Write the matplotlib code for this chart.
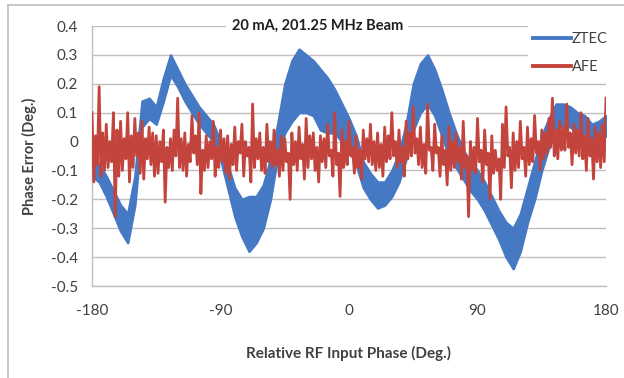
import matplotlib
matplotlib.use("Agg")
import matplotlib.pyplot as plt
from matplotlib.lines import Line2D

# ---- data ----
ztec_x = [-180, -175, -170, -165, -160, -155, -150, -145, -140, -135, -130, -125,
          -120, -115, -110, -105, -100, -95, -90, -85, -80, -75, -70, -65, -60,
          -55, -50, -45, -40, -35, -30, -25, -20, -15, -10, -5, 0, 5, 10, 15, 20,
          25, 30, 35, 40, 45, 50, 55, 60, 65, 70, 75, 80, 85, 90, 95, 100, 105,
          110, 115, 120, 125, 130, 135, 140, 145, 150, 155, 160, 165, 170, 175, 180]
ztec_upper = [-0.05, -0.08, -0.12, -0.17, -0.22, -0.25, -0.12, 0.14, 0.15, 0.12, 0.22, 0.30,
              0.25, 0.20, 0.16, 0.12, 0.09, 0.06, 0.00, -0.08, -0.16, -0.20, -0.19, -0.19, -0.15,
              -0.06, 0.06, 0.20, 0.28, 0.32, 0.30, 0.28, 0.25, 0.22, 0.18, 0.13, 0.08, 0.02, -0.07, -0.11, -0.14,
              -0.14, -0.10, -0.04, 0.06, 0.20, 0.27, 0.30, 0.25, 0.18, 0.10, 0.03, -0.03, -0.07, -0.10, -0.14, -0.19, -0.24,
              -0.28, -0.30, -0.25, -0.16, -0.07, 0.02, 0.08, 0.13, 0.13, 0.12, 0.10, 0.09, 0.06, 0.07, 0.09]
ztec_lower = [-0.12, -0.14, -0.19, -0.25, -0.31, -0.35, -0.22, 0.05, 0.08, 0.06, 0.14, 0.23,
              0.19, 0.14, 0.10, 0.06, 0.03, 0.00, -0.06, -0.16, -0.26, -0.33, -0.38, -0.35, -0.30,
              -0.20, -0.05, 0.03, 0.07, 0.10, 0.10, 0.09, 0.04, 0.03, 0.03, 0.00, -0.03, -0.08, -0.16, -0.20, -0.23,
              -0.22, -0.19, -0.14, -0.06, 0.04, 0.10, 0.13, 0.09, 0.02, -0.05, -0.09, -0.13, -0.17, -0.20, -0.24, -0.29, -0.34,
              -0.40, -0.44, -0.38, -0.28, -0.20, -0.10, -0.02, 0.04, 0.06, 0.05, 0.03, 0.02, 0.00, 0.00, 0.02]

# AFE samples every 1.25 deg from -180 to 180
afe_x = [-180 + 1.25 * i for i in range(289)]
afe_y = [
    0.10, -0.14, 0.02, -0.08, 0.19, -0.12, 0.03, -0.10, 0.06, -0.09, 0.00, -0.07, 0.10, -0.26, 0.04, -0.12,
    0.07, -0.10, 0.01, -0.06, 0.10, -0.14, 0.02, -0.09, 0.08, -0.05, 0.03, -0.11, 0.07, -0.13, 0.01, -0.06,
    0.05, -0.08, 0.03, -0.12, 0.02, -0.11, 0.00, -0.07, 0.04, -0.21, -0.02, -0.09, 0.01, -0.10, 0.04, -0.05,
    0.15, -0.09, 0.01, -0.10, 0.03, -0.12, -0.01, -0.07, 0.09, -0.04, 0.02, -0.08, 0.10, -0.18, -0.03, -0.10,
    0.02, -0.09, 0.00, -0.06, 0.07, -0.12, -0.02, -0.09, 0.04, -0.07, 0.01, -0.11, 0.02, -0.13, -0.01, -0.08,
    0.05, -0.10, 0.00, -0.04, 0.06, -0.12, 0.00, -0.05, -0.02, -0.14, 0.13, -0.09, 0.01, -0.06, 0.03, -0.10,
    -0.02, -0.11, 0.06, -0.07, 0.00, -0.09, 0.04, -0.08, -0.03, -0.12, 0.02, -0.10, 0.01, -0.07, -0.04, -0.20,
    0.03, -0.08, 0.00, -0.10, 0.05, -0.06, -0.01, -0.13, 0.08, -0.09, 0.02, -0.06, 0.03, -0.10, -0.02, -0.14,
    0.02, -0.07, 0.01, -0.09, 0.06, -0.05, -0.03, -0.12, 0.10, -0.08, -0.04, -0.19, 0.04, -0.09, 0.00, -0.08,
    0.07, -0.05, -0.02, -0.11, 0.02, -0.09, -0.03, -0.13, 0.04, -0.06, 0.01, -0.07, 0.06, -0.08, 0.00, -0.10,
    0.03, -0.09, -0.01, -0.12, 0.05, -0.07, 0.02, -0.06, 0.10, -0.05, 0.00, -0.09, 0.04, -0.07, -0.02, -0.12,
    0.07, -0.06, 0.03, -0.05, 0.12, -0.04, 0.01, -0.08, 0.05, -0.09, -0.01, -0.11, 0.13, -0.03, -0.02, -0.10,
    0.06, -0.04, -0.02, -0.12, 0.02, -0.08, -0.03, -0.15, 0.05, -0.10, 0.00, -0.09, 0.03, -0.07, -0.02, -0.13,
    0.07, -0.09, -0.05, -0.26, 0.00, -0.10, -0.02, -0.11, 0.08, -0.07, -0.03, -0.14, 0.04, -0.08, -0.04, -0.20,
    0.02, -0.11, -0.03, -0.10, -0.06, -0.20, 0.06, -0.09, 0.12, -0.05, -0.02, -0.16, 0.03, -0.10, 0.00, -0.09,
    0.07, -0.06, -0.02, -0.12, 0.05, -0.08, 0.01, -0.07, 0.09, -0.04, 0.00, -0.10, 0.04, -0.06, 0.03, -0.04,
    0.08, -0.02, 0.15, -0.05, 0.04, -0.06, 0.07, -0.03, 0.05, -0.03, 0.13, -0.02, 0.03, -0.08, 0.06, -0.04,
    0.04, -0.05, 0.10, -0.06, 0.02, -0.10, 0.08, -0.05, 0.01, -0.13, 0.05, -0.07, 0.03, -0.09, 0.06, -0.07,
    0.15]

x_ticks = [-180, -90, 0, 90, 180]
y_ticks = [-0.5, -0.4, -0.3, -0.2, -0.1, 0, 0.1, 0.2, 0.3, 0.4]
y_tick_labels = ["-0.5", "-0.4", "-0.3", "-0.2", "-0.1", "0", "0.1", "0.2", "0.3", "0.4"]
series_names = ["ZTEC", "AFE"]
title_text = "20 mA, 201.25 MHz Beam"
x_label = "Relative RF Input Phase (Deg.)"
y_label = "Phase Error (Deg.)"

# ---- styling ----
plt.rcParams['font.family'] = ['Lato', 'DejaVu Sans']
BLUE = "#4579C4"
RED = "#C3443D"
GRID = "#C4BDBD"
TEXT = "#404040"

fig = plt.figure(figsize=(6.24, 3.78), dpi=100)
ax = fig.add_axes([92 / 624, 1 - 286 / 378, (606 - 92) / 624, (286 - 26) / 378])

ax.fill_between(ztec_x, ztec_lower, ztec_upper, color=BLUE, lw=1.8,
                edgecolor=BLUE, zorder=2)
ax.plot(afe_x, afe_y, color=RED, lw=2.0, zorder=3)

ax.set_xlim(-180, 180)
ax.set_ylim(-0.5, 0.4)
ax.set_xticks(x_ticks)
ax.set_xticklabels([str(v) for v in x_ticks])
ax.set_yticks(y_ticks)
ax.set_yticklabels(y_tick_labels)
ax.tick_params(axis='both', length=0, labelsize=11, colors=TEXT)
ax.tick_params(axis='x', pad=13)
ax.tick_params(axis='y', pad=10)
ax.grid(axis='y', color=GRID, lw=1.0, zorder=0)
ax.set_axisbelow(True)
for s in ['top', 'right']:
    ax.spines[s].set_visible(False)
for s in ['left', 'bottom']:
    ax.spines[s].set_color(GRID)
    ax.spines[s].set_linewidth(1.0)

ax.set_xlabel(x_label, fontsize=11, fontweight='bold', color=TEXT, labelpad=20)
ax.set_ylabel(y_label, fontsize=10.5, fontweight='bold', color=TEXT, labelpad=10)

ax.text(0.438, 1.0, title_text, transform=ax.transAxes, ha='center', va='center',
        fontsize=10.5, fontweight='bold', color='#202020', zorder=5,
        bbox=dict(facecolor='white', edgecolor='none', pad=4))

handles = [Line2D([0], [0], color=BLUE, lw=2.8), Line2D([0], [0], color=RED, lw=2.8)]
leg = ax.legend(handles, series_names, loc='upper right', bbox_to_anchor=(1.015, 1.0),
                frameon=True, facecolor='white', edgecolor='none', framealpha=1,
                fontsize=10.5, handlelength=2.6, handletextpad=0.05, labelspacing=1.0,
                borderpad=0.4, borderaxespad=0.0, fancybox=False)
for t in leg.get_texts():
    t.set_color(TEXT)
leg.set_zorder(6)

# outer chart border
fig.add_artist(Line2D([8 / 624, 8 / 624], [0, 1 - 5 / 378], color="#BDBDBD", lw=1.2))
fig.add_artist(Line2D([8 / 624, 1], [1 - 5 / 378, 1 - 5 / 378], color="#BDBDBD", lw=1.2))

fig.savefig("out.png", dpi=100)
